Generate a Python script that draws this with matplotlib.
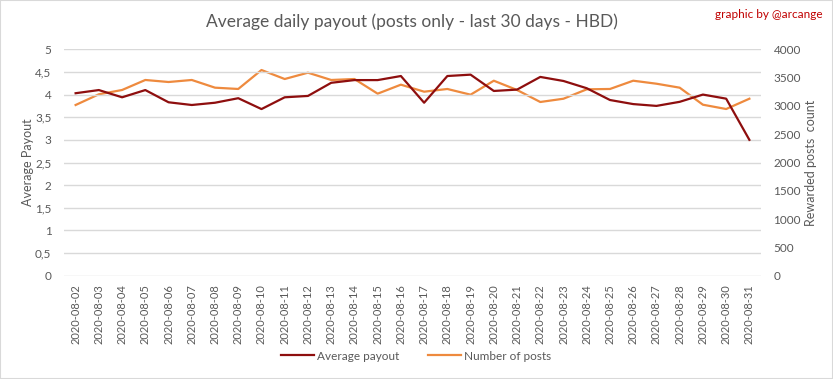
import matplotlib.pyplot as plt
from matplotlib.patches import Rectangle

dates = ['2020-08-%02d' % d for d in range(2, 32)]
avg_payout = [4.03, 4.10, 3.94, 4.10, 3.83, 3.77, 3.82, 3.92, 3.68, 3.94,
              3.97, 4.26, 4.32, 4.32, 4.41, 3.82, 4.41, 4.44, 4.08, 4.11,
              4.39, 4.30, 4.14, 3.88, 3.79, 3.75, 3.84, 4.00, 3.91, 3.00]
num_posts = [3016, 3205, 3281, 3458, 3422, 3458, 3322, 3299, 3634, 3475,
             3587, 3458, 3475, 3216, 3375, 3251, 3299, 3198, 3445, 3281,
             3069, 3127, 3293, 3299, 3445, 3392, 3322, 3021, 2945, 3127]
left_ticks = [0, 0.5, 1, 1.5, 2, 2.5, 3, 3.5, 4, 4.5, 5]
right_ticks = [0, 500, 1000, 1500, 2000, 2500, 3000, 3500, 4000]

plt.rcParams['font.family'] = ['Lato', 'DejaVu Sans']
text_col = '#595959'
red = '#8E0E0E'
orange = '#EE8A3E'

W, H = 833, 379
fig = plt.figure(figsize=(W / 100, H / 100), dpi=100)
ax = fig.add_axes([64 / W, 1 - 275.7 / H, (761 - 64) / W, (275.7 - 49.3) / H])
ax2 = ax.twinx()

x = range(len(dates))
ax.plot(x, avg_payout, color=red, linewidth=1.6, label='Average payout', zorder=3)
ax2.plot(x, num_posts, color=orange, linewidth=1.6, label='Number of posts')
ax.set_zorder(ax2.get_zorder() + 1)
ax.patch.set_visible(False)

ax.set_xlim(-0.5, len(dates) - 0.5)
ax.set_ylim(0, 5)
ax2.set_ylim(0, 4000)
ax.set_yticks(left_ticks)
ax.set_yticklabels([('%g' % v).replace('.', ',') for v in left_ticks])
ax2.set_yticks(right_ticks)
ax.set_xticks(list(x))
ax.set_xticklabels(dates, rotation=90)

ax.grid(axis='y', color='#D9D9D9', linewidth=1)
for a in (ax, ax2):
    for s in a.spines.values():
        s.set_visible(False)
    a.tick_params(length=0, labelsize=8.5, colors=text_col)
ax.tick_params(axis='y', pad=9)
ax2.tick_params(axis='y', pad=9)
ax.tick_params(axis='x', pad=6, labelsize=8)

ax.set_ylabel('Average Payout', color=text_col, fontsize=9, labelpad=1)
ax2.set_ylabel('Rewarded posts  count', color=text_col, fontsize=9, labelpad=3)

fig.text(412 / W, 1 - 22 / H, 'Average daily payout (posts only - last 30 days - HBD)',
         ha='center', va='center', fontsize=12.5, color=text_col)
fig.text(823 / W, 1 - 15 / H, 'graphic by @arcange', ha='right', va='center',
         fontsize=8.5, color='#C00000')

h1, l1 = ax.get_legend_handles_labels()
h2, l2 = ax2.get_legend_handles_labels()
fig.legend(h1 + h2, l1 + l2, loc='center', bbox_to_anchor=(416 / W, 1 - 356 / H),
           ncol=2, frameon=False, fontsize=8.5, labelcolor=text_col,
           handlelength=2.8, handletextpad=0.2, columnspacing=2.5)

fig.patches.append(Rectangle((0, 0), 1, 1, transform=fig.transFigure, fill=False,
                             edgecolor='#D9D9D9', linewidth=1.5))

fig.savefig('out.png', dpi=100)
